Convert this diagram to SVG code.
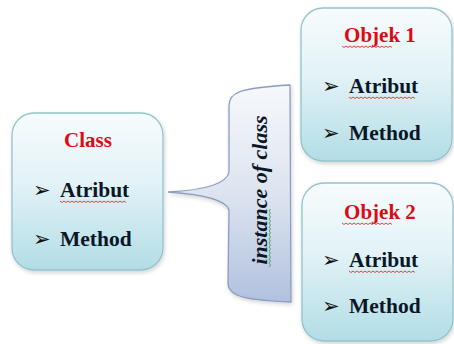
<svg xmlns="http://www.w3.org/2000/svg" width="454" height="344" viewBox="0 0 454 344">
  <defs>
    <linearGradient id="boxFill" x1="0" y1="0" x2="0" y2="1">
      <stop offset="0" stop-color="#f7fcfd"/>
      <stop offset="0.45" stop-color="#e2f2f6"/>
      <stop offset="1" stop-color="#b2dde6"/>
    </linearGradient>
    <linearGradient id="calloutFill" x1="0" y1="0" x2="0" y2="1">
      <stop offset="0" stop-color="#f6f8fb"/>
      <stop offset="0.5" stop-color="#dde4f0"/>
      <stop offset="1" stop-color="#b1c1de"/>
    </linearGradient>
    <filter id="soft" x="-10%" y="-10%" width="125%" height="125%">
      <feGaussianBlur in="SourceAlpha" stdDeviation="2"/>
      <feOffset dx="1" dy="2"/>
      <feComponentTransfer><feFuncA type="linear" slope="0.18"/></feComponentTransfer>
      <feMerge><feMergeNode/><feMergeNode in="SourceGraphic"/></feMerge>
    </filter>
  </defs>
  <style>
    .box { fill: url(#boxFill); stroke: #93c3cc; stroke-width: 1.3; filter: url(#soft); }
    .callout { fill: url(#calloutFill); stroke: #8d9dbd; stroke-width: 1.3; filter: url(#soft); }
    .title { font-family: "Liberation Serif", "Times New Roman", serif; font-weight: bold; font-size: 21px; fill: #dd0a14; text-anchor: middle; }
    .item { font-family: "Liberation Serif", "Times New Roman", serif; font-weight: bold; font-size: 21.5px; fill: #0b1626; }
    .bullet { font-family: "DejaVu Sans", sans-serif; font-size: 21px; fill: #111; }
    .label { font-family: "Liberation Serif", "Times New Roman", serif; font-weight: bold; font-style: italic; font-size: 22px; fill: #0b1626; text-anchor: middle; }
    .squiggle { fill: none; stroke-width: 0.9; }
    .red { stroke: #e03030; }
    .green { stroke: #3aa845; }
  </style>

  <!-- connector: callout bubble pointing from the class toward its instances -->
  <g id="connectors">
    <path class="callout" d="M 229,106 C 229,92 240,88 290,85 L 291,302 C 250,300 228,298 228,283 L 229,210 Q 225,196 168,192 Q 226,189 229,172 Z"/>
    <text class="label" transform="translate(267,190) rotate(-90)">instance of class</text>
    <path class="squiggle green" d="M 269,267 l 1.5,-2 l -1.5,-2 l 1.5,-2 l -1.5,-2 l 1.5,-2 l -1.5,-2 l 1.5,-2 l -1.5,-2 l 1.5,-2 l -1.5,-2 l 1.5,-2 l -1.5,-2 l 1.5,-2 l -1.5,-2 l 1.5,-2 l -1.5,-2 l 1.5,-2 l -1.5,-2 l 1.5,-2 l -1.5,-2 l 1.5,-2 l -1.5,-2 l 1.5,-2 l -1.5,-2 l 1.5,-2 l -1.5,-2 l 1.5,-2 l -1.5,-2 l 1.5,-2"/>
  </g>

  <!-- Class node -->
  <g id="class">
    <rect class="box" x="12" y="113" width="151" height="157" rx="22"/>
    <text class="title" x="88" y="147">Class</text>
    <text class="bullet" x="33" y="197">➢</text>
    <text class="item" x="60" y="197">Atribut</text>
    <path class="squiggle red" d="M 60,201 l 2,1.5 l 2,-1.5 l 2,1.5 l 2,-1.5 l 2,1.5 l 2,-1.5 l 2,1.5 l 2,-1.5 l 2,1.5 l 2,-1.5 l 2,1.5 l 2,-1.5 l 2,1.5 l 2,-1.5 l 2,1.5 l 2,-1.5 l 2,1.5 l 2,-1.5 l 2,1.5 l 2,-1.5 l 2,1.5 l 2,-1.5 l 2,1.5 l 2,-1.5 l 2,1.5 l 2,-1.5 l 2,1.5 l 2,-1.5 l 2,1.5 l 2,-1.5 l 2,1.5 l 2,-1.5 l 2,1.5"/>
    <text class="bullet" x="33" y="246">➢</text>
    <text class="item" x="60" y="246">Method</text>
  </g>

  <!-- Objek 1 node -->
  <g id="objek1">
    <rect class="box" x="301" y="8" width="151" height="153" rx="22"/>
    <text class="title" x="380" y="42">Objek 1</text>
    <path class="squiggle red" d="M 342,46 l 2,1.5 l 2,-1.5 l 2,1.5 l 2,-1.5 l 2,1.5 l 2,-1.5 l 2,1.5 l 2,-1.5 l 2,1.5 l 2,-1.5 l 2,1.5 l 2,-1.5 l 2,1.5 l 2,-1.5 l 2,1.5 l 2,-1.5 l 2,1.5 l 2,-1.5 l 2,1.5 l 2,-1.5 l 2,1.5 l 2,-1.5 l 2,1.5 l 2,-1.5 l 2,1.5"/>
    <text class="bullet" x="322" y="93">➢</text>
    <text class="item" x="349" y="93">Atribut</text>
    <path class="squiggle red" d="M 349,97 l 2,1.5 l 2,-1.5 l 2,1.5 l 2,-1.5 l 2,1.5 l 2,-1.5 l 2,1.5 l 2,-1.5 l 2,1.5 l 2,-1.5 l 2,1.5 l 2,-1.5 l 2,1.5 l 2,-1.5 l 2,1.5 l 2,-1.5 l 2,1.5 l 2,-1.5 l 2,1.5 l 2,-1.5 l 2,1.5 l 2,-1.5 l 2,1.5 l 2,-1.5 l 2,1.5 l 2,-1.5 l 2,1.5 l 2,-1.5 l 2,1.5 l 2,-1.5 l 2,1.5 l 2,-1.5 l 2,1.5"/>
    <text class="bullet" x="322" y="140">➢</text>
    <text class="item" x="349" y="140">Method</text>
  </g>

  <!-- Objek 2 node -->
  <g id="objek2">
    <rect class="box" x="302" y="183" width="151" height="158" rx="22"/>
    <text class="title" x="380" y="219">Objek 2</text>
    <path class="squiggle red" d="M 342,223 l 2,1.5 l 2,-1.5 l 2,1.5 l 2,-1.5 l 2,1.5 l 2,-1.5 l 2,1.5 l 2,-1.5 l 2,1.5 l 2,-1.5 l 2,1.5 l 2,-1.5 l 2,1.5 l 2,-1.5 l 2,1.5 l 2,-1.5 l 2,1.5 l 2,-1.5 l 2,1.5 l 2,-1.5 l 2,1.5 l 2,-1.5 l 2,1.5 l 2,-1.5 l 2,1.5"/>
    <text class="bullet" x="322" y="267">➢</text>
    <text class="item" x="349" y="267">Atribut</text>
    <path class="squiggle red" d="M 349,271 l 2,1.5 l 2,-1.5 l 2,1.5 l 2,-1.5 l 2,1.5 l 2,-1.5 l 2,1.5 l 2,-1.5 l 2,1.5 l 2,-1.5 l 2,1.5 l 2,-1.5 l 2,1.5 l 2,-1.5 l 2,1.5 l 2,-1.5 l 2,1.5 l 2,-1.5 l 2,1.5 l 2,-1.5 l 2,1.5 l 2,-1.5 l 2,1.5 l 2,-1.5 l 2,1.5 l 2,-1.5 l 2,1.5 l 2,-1.5 l 2,1.5 l 2,-1.5 l 2,1.5 l 2,-1.5 l 2,1.5"/>
    <text class="bullet" x="322" y="313">➢</text>
    <text class="item" x="349" y="313">Method</text>
  </g>
</svg>
